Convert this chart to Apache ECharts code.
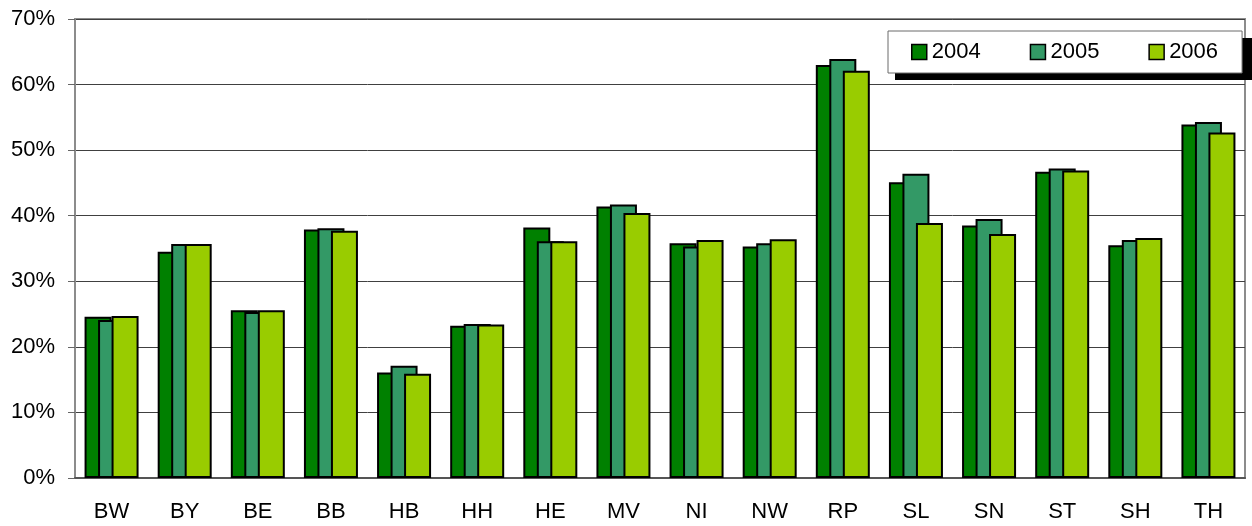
<!DOCTYPE html>
<html>
<head>
<meta charset="utf-8">
<script src="https://cdn.jsdelivr.net/npm/echarts@6/dist/echarts.min.js"></script>
<style>
html,body{margin:0;padding:0;background:#fff;}
#chart{width:1252px;height:526px;}
</style>
</head>
<body>
<div id="chart"></div>
<script>
const categories = ['BW','BY','BE','BB','HB','HH','HE','MV','NI','NW','RP','SL','SN','ST','SH','TH'];
const seriesNames = ['2004','2005','2006'];
const values2004 = [24.6,34.5,25.6,37.9,16.1,23.2,38.2,41.4,35.8,35.3,63.0,45.1,38.5,46.7,35.5,53.9];
const values2005 = [24.1,35.7,25.3,38.1,17.1,23.5,36.1,41.7,35.3,35.8,63.9,46.4,39.5,47.2,36.3,54.3];
const values2006 = [24.7,35.7,25.6,37.7,15.9,23.4,36.1,40.4,36.3,36.4,62.1,38.9,37.2,46.9,36.6,52.7];
const yMin = 0, yMax = 70, yStep = 10;

const colors = ['#008000','#339966','#99CC00'];
const font = '"Liberation Sans", Arial, sans-serif';
const chart = echarts.init(document.getElementById('chart'), null, {renderer:'canvas'});
const allValues = [values2004, values2005, values2006];

chart.setOption({
  animation:false,
  backgroundColor:'#ffffff',
  grid:{left:75,right:7,top:19,bottom:48,show:true,borderColor:'#8c8c8c',borderWidth:2,backgroundColor:'transparent'},
  graphic:[{
    type:'rect', z:3,
    shape:{x:895,y:38,width:357,height:42},
    style:{fill:'#000000'}
  }],
  legend:{
    show:true,
    left:888, top:31, z:5,
    orient:'horizontal',
    padding:[10,24,10,23],
    itemWidth:15, itemHeight:15, itemGap:49,
    icon:'rect',
    backgroundColor:'#ffffff',
    borderColor:'#6a6a6a', borderWidth:1,
    textStyle:{fontFamily:font,fontSize:22,color:'#000',padding:[0,0,0,0]},
    data:seriesNames.map((n,i)=>({name:n,itemStyle:{color:colors[i],borderColor:'#000',borderWidth:1.5}}))
  },
  xAxis:{
    type:'category',
    data:categories,
    axisLine:{show:true,lineStyle:{color:'#555',width:2}},
    axisTick:{show:false},
    axisLabel:{fontFamily:font,fontSize:22,color:'#000',margin:23,interval:0}
  },
  yAxis:{
    type:'value',
    min:yMin,max:yMax,interval:yStep,
    axisLine:{show:true,lineStyle:{color:'#8c8c8c',width:2}},
    axisTick:{show:true,length:7,lineStyle:{color:'#666',width:1}},
    splitLine:{show:true,lineStyle:{color:'#404040',width:1}},
    axisLabel:{fontFamily:font,fontSize:22,color:'#000',margin:20,formatter:'{value}%'}
  },
  series:seriesNames.map((n,i)=>({
    name:n,
    type:'bar',
    data:allValues[i],
    barWidth:27,
    barGap:'-50%',
    itemStyle:{color:colors[i],borderColor:'#000',borderWidth:2}
  }))
});
</script>
</body>
</html>
